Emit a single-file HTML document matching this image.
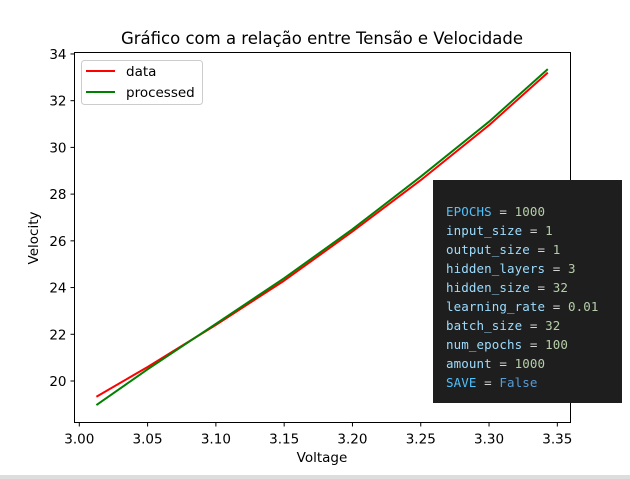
<!DOCTYPE html>
<html><head><meta charset="utf-8"><style>
body{margin:0;width:630px;height:479px;overflow:hidden;background:#fff;font-family:"DejaVu Sans","Liberation Sans",sans-serif;position:relative}
#bar{position:absolute;left:0;top:475px;width:630px;height:4px;background:#ddd}
#code{position:absolute;left:433px;top:180px;width:189px;height:223px;background:#1e1e1e;font-family:"DejaVu Sans Mono","Liberation Mono",monospace;font-size:12.5px;letter-spacing:0.1px;color:#d4d4d4}
#code div{position:absolute;left:13px;white-space:pre}
.v{color:#9cdcfe}.c{color:#4fc1ff}.n{color:#b5cea8}.k{color:#569cd6}
</style></head><body>
<svg id="chart" width="630" height="479" style="position:absolute;left:0;top:0" font-family="DejaVu Sans, Liberation Sans, sans-serif"></svg>
<div id="bar"></div>
<div id="code">
<div style="top:24px"><span class="c">EPOCHS</span> = <span class="n">1000</span></div>
<div style="top:43px"><span class="v">input_size</span> = <span class="n">1</span></div>
<div style="top:62px"><span class="v">output_size</span> = <span class="n">1</span></div>
<div style="top:81px"><span class="v">hidden_layers</span> = <span class="n">3</span></div>
<div style="top:100px"><span class="v">hidden_size</span> = <span class="n">32</span></div>
<div style="top:119px"><span class="v">learning_rate</span> = <span class="n">0.01</span></div>
<div style="top:138px"><span class="v">batch_size</span> = <span class="n">32</span></div>
<div style="top:157px"><span class="v">num_epochs</span> = <span class="n">100</span></div>
<div style="top:176px"><span class="v">amount</span> = <span class="n">1000</span></div>
<div style="top:195px"><span class="c">SAVE</span> = <span class="k">False</span></div>
</div>
<script>
const xTicks=[3.00,3.05,3.10,3.15,3.20,3.25,3.30,3.35];
const yTicks=[20,22,24,26,28,30,32,34];
const voltage=[3.0125,3.05,3.10,3.15,3.20,3.25,3.30,3.343];
const dataVel=[19.33,20.6,22.4,24.3,26.4,28.6,30.95,33.2];
const processedVel=[18.97,20.5,22.45,24.4,26.5,28.75,31.1,33.35];
const NS="http://www.w3.org/2000/svg";
const svg=document.getElementById('chart');
const L=74.5,R=570.5,T=52.5,B=422.5;
const sx=v=>79.3+(v-3.0)/0.05*68.29;
const sy=v=>381-(v-20)*23.36;
function mk(t,a,txt){const e=document.createElementNS(NS,t);for(const k in a)e.setAttribute(k,a[k]);if(txt!=null)e.textContent=txt;svg.appendChild(e);return e;}
let e;
e=mk('text',{x:322,y:44,'text-anchor':'middle','font-size':16.5,fill:'#000'},'Gráfico com a relação entre Tensão e Velocidade');

xTicks.forEach(v=>{const x=sx(v);
 e=mk('line',{x1:x,x2:x,y1:B,y2:B+4,stroke:'#000','stroke-width':1});
 e=mk('text',{x:x,y:B+21,'text-anchor':'middle','font-size':13.5},v.toFixed(2));});
yTicks.forEach(v=>{const y=sy(v);
 e=mk('line',{x1:L-4,x2:L,y1:y,y2:y,stroke:'#000','stroke-width':1});
 e=mk('text',{x:L-8,y:y+5,'text-anchor':'end','font-size':13.5},String(v));});
e=mk('text',{x:322,y:462,'text-anchor':'middle','font-size':13.5},'Voltage');
e=mk('text',{x:38,y:238,'text-anchor':'middle','font-size':13.5,transform:'rotate(-90 38 238)'},'Velocity');
function line(ys,col,name){const d=voltage.map((v,i)=>(i?'L':'M')+sx(v).toFixed(1)+','+sy(ys[i]).toFixed(1)).join(' ');
 e=mk('path',{d:d,fill:'none',stroke:col,'stroke-width':2,'stroke-linejoin':'round'});}
line(dataVel,'#ff0000','data-line');
line(processedVel,'#008000','processed-line');
e=mk('rect',{x:L,y:T,width:R-L,height:B-T,fill:'none',stroke:'#000','stroke-width':1});
e=mk('rect',{x:81.5,y:60.5,width:121,height:44,rx:3,fill:'#fff',stroke:'#ccc','stroke-width':1,'fill-opacity':0.8});
[['data','#ff0000',71],['processed','#008000',92]].forEach(([n,c,y])=>{
 e=mk('line',{x1:86,x2:115,y1:y,y2:y,stroke:c,'stroke-width':2});
 e=mk('text',{x:126,y:y+5,'font-size':13.5},n);});
</script>
</body></html>
